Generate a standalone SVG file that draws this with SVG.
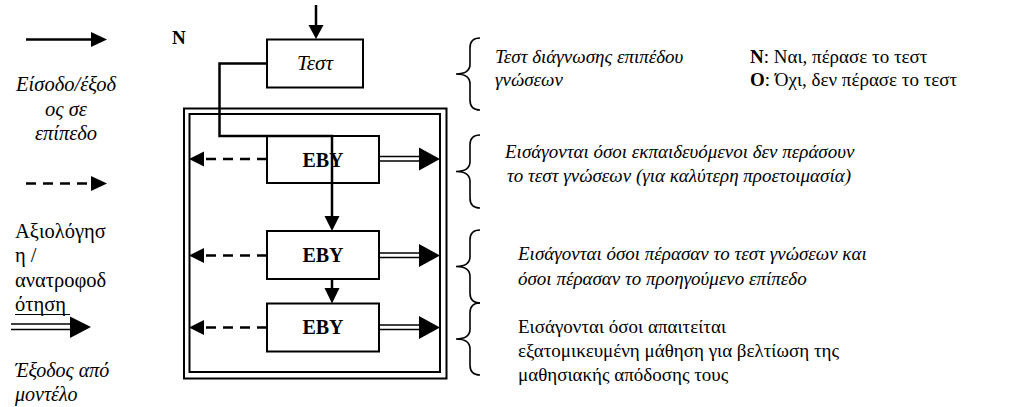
<svg xmlns="http://www.w3.org/2000/svg" width="1017" height="407" viewBox="0 0 1017 407">
<style>
text{font-family:"Liberation Serif","Times New Roman",serif;font-size:19px;fill:#000}
.it{font-style:italic}
.b{font-weight:bold}
.lg{font-size:20.5px}
.box{fill:#fff;stroke:#000;stroke-width:2}
.ln{fill:none;stroke:#000;stroke-width:2.5}
.dash{fill:none;stroke:#000;stroke-width:2.5;stroke-dasharray:10 7}
.dbl{fill:none;stroke:#000;stroke-width:1.6}
.brace{fill:none;stroke:#000;stroke-width:1.6}
.head{fill:#000}
</style>
<rect width="1017" height="407" fill="#fff"/>

<g id="legend">
<line x1="26" y1="39.5" x2="93" y2="39.5" class="ln"/>
<path d="M91,32 L107,39.5 L91,47 Z" class="head"/>
<text x="66" y="91" class="it lg" text-anchor="middle">Είσοδο/έξοδ</text>
<text x="66" y="116" class="it lg" text-anchor="middle">ος σε</text>
<text x="66" y="140" class="it lg" text-anchor="middle">επίπεδο</text>
<line x1="26" y1="183.5" x2="93" y2="183.5" class="dash"/>
<path d="M91,176 L107,183.5 L91,191 Z" class="head"/>
<text x="15" y="238" class="lg">Αξιολόγησ</text>
<text x="15" y="262" class="lg">η /</text>
<text x="15" y="287" class="lg">ανατροφοδ</text>
<text x="15" y="311" class="lg">ότηση</text>
<line x1="15" y1="314.5" x2="70" y2="314.5" stroke="#000" stroke-width="1"/>
<line x1="11" y1="324" x2="71" y2="324" class="dbl" stroke-width="2"/>
<line x1="11" y1="329.5" x2="71" y2="329.5" class="dbl" stroke-width="2"/>
<path d="M70,316.5 L91,327 L70,338 Z" class="head"/>
<text x="15" y="377" class="it" style="font-size:20px">Έξοδος από</text>
<text x="15" y="401" class="it" style="font-size:20px">μοντέλο</text>
</g>

<text x="172" y="44" class="b">N</text>

<g id="frame">
<rect x="184" y="108.5" width="262.5" height="270" fill="none" stroke="#000" stroke-width="2"/>
<rect x="189.5" y="114" width="250.5" height="258" fill="none" stroke="#000" stroke-width="2"/>
</g>

<g id="test">
<rect x="267" y="39.5" width="96" height="48" class="box"/>
<text x="315" y="70" class="it" text-anchor="middle" style="font-size:21px">Τεστ</text>
</g>
<g id="eby1">
<rect x="267" y="136" width="112" height="47" class="box"/>
<text x="323" y="166.5" class="b" text-anchor="middle" style="font-size:20px">EBY</text>
</g>
<g id="eby2">
<rect x="267" y="231" width="112" height="48" class="box"/>
<text x="323" y="261.5" class="b" text-anchor="middle" style="font-size:20px">EBY</text>
</g>
<g id="eby3">
<rect x="267" y="303.5" width="112" height="48" class="box"/>
<text x="323" y="334" class="b" text-anchor="middle" style="font-size:20px">EBY</text>
</g>

<g id="connectors">
<line x1="316" y1="5" x2="316" y2="26" class="ln"/>
<path d="M308.5,25 L323.5,25 L316,39 Z" class="head"/>
<path d="M267,63.5 H219.5 V136 H332 V217" class="ln"/>
<path d="M324.5,216 L339.5,216 L332,231 Z" class="head"/>
<line x1="332" y1="279" x2="332" y2="289" class="ln"/>
<path d="M324.5,288 L339.5,288 L332,303.5 Z" class="head"/>

<line x1="267" y1="159" x2="202" y2="159" class="dash"/>
<path d="M204,151.5 L189,159 L204,166.5 Z" class="head"/>
<line x1="267" y1="255.5" x2="202" y2="255.5" class="dash"/>
<path d="M204,248 L189,255.5 L204,263 Z" class="head"/>
<line x1="267" y1="327.5" x2="202" y2="327.5" class="dash"/>
<path d="M204,320 L189,327.5 L204,335 Z" class="head"/>

<line x1="379" y1="156.5" x2="420" y2="156.5" class="dbl"/>
<line x1="379" y1="161" x2="420" y2="161" class="dbl"/>
<path d="M419,147.5 L440,159 L419,170.5 Z" class="head"/>
<line x1="379" y1="253" x2="420" y2="253" class="dbl"/>
<line x1="379" y1="257.5" x2="420" y2="257.5" class="dbl"/>
<path d="M419,244 L440,255.5 L419,267 Z" class="head"/>
<line x1="379" y1="325" x2="420" y2="325" class="dbl"/>
<line x1="379" y1="329.5" x2="420" y2="329.5" class="dbl"/>
<path d="M419,316 L440,327.5 L419,339 Z" class="head"/>
</g>

<g id="braces">
<path d="M480,38 Q470,38 470,48 V64 Q470,74 456,74 Q470,74 470,84 V100 Q470,110 480,110" class="brace"/>
<path d="M480,135 Q470,135 470,145 V161.5 Q470,171.5 456,171.5 Q470,171.5 470,181.5 V198 Q470,208 480,208" class="brace"/>
<path d="M480,230 Q470,230 470,240 V256.5 Q470,266.5 456,266.5 Q470,266.5 470,276.5 V293 Q470,303 480,303" class="brace"/>
<path d="M480,303 Q470,303 470,313 V329 Q470,339 456,339 Q470,339 470,349 V365 Q470,375 480,375" class="brace"/>
</g>

<g id="notes">
<text x="495" y="63" class="it">Τεστ διάγνωσης επιπέδου</text>
<text x="495" y="86" class="it">γνώσεων</text>
<text x="750" y="63"><tspan class="b">N</tspan>: Ναι, πέρασε το τεστ</text>
<text x="750" y="86"><tspan class="b">O</tspan>: Όχι, δεν πέρασε το τεστ</text>
<text x="505" y="158" class="it">Εισάγονται όσοι εκπαιδευόμενοι δεν περάσουν</text>
<text x="507" y="182" class="it">το τεστ γνώσεων (για καλύτερη προετοιμασία)</text>
<text x="518" y="260" class="it">Εισάγονται όσοι πέρασαν το τεστ γνώσεων και</text>
<text x="518" y="285" class="it">όσοι πέρασαν το προηγούμενο επίπεδο</text>
<text x="518" y="333">Εισάγονται όσοι απαιτείται</text>
<text x="518" y="357">εξατομικευμένη μάθηση για βελτίωση της</text>
<text x="518" y="381">μαθησιακής απόδοσης τους</text>
</g>
</svg>
